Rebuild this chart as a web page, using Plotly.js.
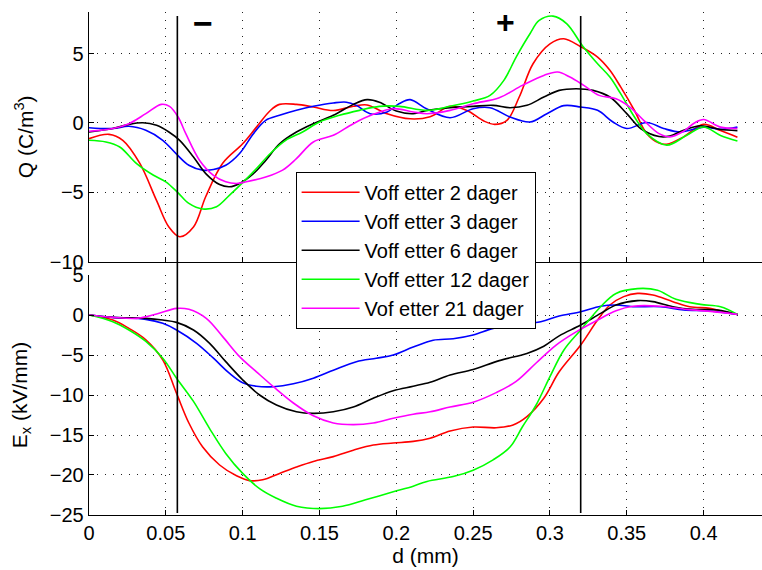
<!DOCTYPE html>
<html>
<head>
<meta charset="utf-8">
<script src="https://cdn.plot.ly/plotly-3.0.1.min.js"></script>
<style>html,body{margin:0;padding:0;background:#fff;}#chart{width:762px;height:570px;}</style>
</head>
<body>
<div id="chart"></div>
<script>
// ---- Series names and colours ----
const seriesNames = ["Voff etter 2 dager", "Voff etter 3 dager", "Voff etter 6 dager", "Voff etter 12 dager", "Vof etter 21 dager"];
const seriesColors = ["#ff0000", "#0000ff", "#000000", "#00ff00", "#ff00ff"];

// ---- Top panel: Q (C/m^3) ----
const qRedX = [0, 0.013, 0.022, 0.033, 0.044, 0.052, 0.059, 0.068, 0.076, 0.087, 0.1, 0.109, 0.118, 0.124, 0.135, 0.146, 0.159, 0.172, 0.181, 0.194, 0.209, 0.222, 0.235, 0.246, 0.257, 0.264, 0.272, 0.28, 0.289, 0.3, 0.309, 0.32, 0.331, 0.339, 0.346, 0.355, 0.363, 0.371, 0.376, 0.387, 0.4, 0.411, 0.422];
const qRedY = [-1.13, -0.82, -1.25, -2.9, -5.6, -7.5, -8.2, -7.5, -5.3, -2.9, -1.5, -0.3, 0.9, 1.34, 1.34, 1.15, 0.9, 1.2, 1.3, 0.67, 0.3, 0.45, 1.2, 0.9, 0.14, -0.1, 0.19, 1.87, 4.27, 5.7, 6.07, 5.5, 4.75, 3.8, 2.6, 0.9, -0.77, -1.45, -1.53, -1.0, -0.1, -0.55, -1.03];

const qBlueX = [0, 0.0155, 0.026, 0.037, 0.048, 0.057, 0.065, 0.074, 0.081, 0.089, 0.098, 0.107, 0.115, 0.124, 0.135, 0.146, 0.159, 0.1675, 0.174, 0.183, 0.194, 0.202, 0.209, 0.22, 0.235, 0.25, 0.261, 0.274, 0.287, 0.298, 0.309, 0.32, 0.331, 0.341, 0.35, 0.363, 0.374, 0.385, 0.4, 0.411, 0.422];
const qBlueY = [-0.34, -0.4, -0.24, -0.53, -1.25, -2.25, -3.05, -3.4, -3.36, -3.05, -2.2, -0.77, 0.19, 0.55, 0.91, 1.2, 1.44, 1.5, 1.27, 0.67, 0.8, 1.4, 1.68, 1.0, 0.38, 1.03, 1.1, 0.43, 0.07, 0.67, 1.25, 1.15, 0.91, 0.07, -0.4, 0.03, -0.4, -0.65, -0.3, -0.45, -0.3];

const qBlackX = [0, 0.0155, 0.026, 0.035, 0.044, 0.052, 0.059, 0.068, 0.076, 0.085, 0.0915, 0.098, 0.107, 0.115, 0.124, 0.135, 0.146, 0.159, 0.172, 0.181, 0.189, 0.2, 0.211, 0.22, 0.235, 0.25, 0.263, 0.274, 0.285, 0.296, 0.306, 0.317, 0.328, 0.339, 0.35, 0.359, 0.371, 0.378, 0.387, 0.398, 0.41, 0.422];
const qBlackY = [-0.65, -0.4, -0.1, 0.02, -0.17, -0.65, -1.25, -2.45, -3.65, -4.44, -4.6, -4.36, -3.65, -2.7, -1.5, -0.65, -0.05, 0.55, 1.34, 1.68, 1.5, 0.86, 0.67, 0.9, 1.1, 1.2, 1.27, 1.1, 1.27, 1.87, 2.35, 2.47, 2.35, 1.87, 0.67, -0.4, -0.98, -0.95, -0.53, -0.2, -0.45, -0.55];

const qGreenX = [0, 0.011, 0.02, 0.031, 0.042, 0.05, 0.058, 0.065, 0.074, 0.083, 0.0915, 0.1, 0.109, 0.118, 0.128, 0.139, 0.15, 0.163, 0.176, 0.189, 0.202, 0.22, 0.235, 0.25, 0.261, 0.27, 0.278, 0.287, 0.293, 0.302, 0.311, 0.321, 0.331, 0.339, 0.346, 0.355, 0.363, 0.376, 0.389, 0.4, 0.411, 0.422];
const qGreenY = [-1.25, -1.37, -1.73, -2.93, -3.77, -4.24, -5.04, -5.8, -6.2, -6.04, -5.2, -4.3, -3.29, -2.2, -1.25, -0.65, 0.07, 0.55, 0.91, 1.2, 1.2, 0.91, 1.2, 1.58, 1.99, 3.07, 4.75, 6.43, 7.39, 7.7, 7.15, 5.59, 4.27, 3.31, 2.11, 0.43, -0.77, -1.6, -0.89, -0.29, -0.9, -1.3];

const qMagentaX = [0, 0.0155, 0.026, 0.037, 0.047, 0.0524, 0.058, 0.063, 0.072, 0.081, 0.089, 0.096, 0.1024, 0.115, 0.126, 0.135, 0.146, 0.159, 0.172, 0.185, 0.198, 0.211, 0.22, 0.235, 0.25, 0.267, 0.282, 0.296, 0.305, 0.313, 0.322, 0.332, 0.343, 0.352, 0.361, 0.371, 0.378, 0.387, 0.394, 0.4, 0.411, 0.422];
const qMagentaY = [-0.6, -0.4, -0.05, 0.67, 1.34, 1.2, 0.43, -0.77, -2.7, -3.77, -4.24, -4.36, -4.24, -3.9, -3.4, -2.57, -1.37, -0.89, -0.05, 0.62, 1.03, 0.79, 0.67, 0.91, 1.39, 1.82, 2.71, 3.43, 3.67, 3.31, 2.71, 1.99, 1.75, 1.15, 0.19, -0.77, -1.0, -0.6, 0.0, 0.25, -0.3, -0.4];

// ---- Bottom panel: E_x (kV/mm) ----
const eRedX = [0, 0.0155, 0.026, 0.037, 0.048, 0.057, 0.065, 0.074, 0.085, 0.096, 0.1045, 0.113, 0.124, 0.135, 0.146, 0.159, 0.172, 0.185, 0.198, 0.211, 0.222, 0.235, 0.25, 0.265, 0.276, 0.285, 0.296, 0.306, 0.32, 0.331, 0.339, 0.348, 0.357, 0.367, 0.38, 0.391, 0.404, 0.413, 0.422];
const eRedY = [0, -0.63, -1.67, -3.1, -5.6, -9.8, -13.5, -16.5, -18.75, -20.1, -20.7, -20.6, -19.8, -19.0, -18.3, -17.7, -16.9, -16.25, -16.0, -15.8, -15.4, -14.5, -14.0, -14.1, -13.75, -12.7, -10.4, -7.1, -3.75, -0.63, 1.25, 2.3, 2.7, 2.5, 1.67, 1.04, 0.83, 0.42, 0.08];

const eBlueX = [0, 0.0155, 0.037, 0.048, 0.057, 0.07, 0.081, 0.0915, 0.1, 0.109, 0.12, 0.133, 0.146, 0.159, 0.174, 0.187, 0.198, 0.211, 0.224, 0.237, 0.25, 0.263, 0.276, 0.294, 0.306, 0.32, 0.333, 0.343, 0.354, 0.372, 0.387, 0.404, 0.422];
const eBlueY = [0, -0.29, -0.54, -1.04, -1.87, -3.54, -5.4, -7.3, -8.46, -8.9, -8.96, -8.6, -7.9, -6.9, -5.83, -5.4, -5.0, -4.0, -3.15, -2.96, -2.5, -1.67, -1.25, -0.83, -0.13, 0.42, 1.1, 1.25, 1.04, 1.04, 0.63, 0.5, 0.08];

const eBlackX = [0, 0.0155, 0.037, 0.048, 0.057, 0.068, 0.0785, 0.089, 0.1, 0.111, 0.122, 0.135, 0.146, 0.159, 0.172, 0.185, 0.198, 0.211, 0.222, 0.235, 0.25, 0.267, 0.285, 0.296, 0.306, 0.32, 0.333, 0.343, 0.357, 0.367, 0.38, 0.393, 0.409, 0.422];
const eBlackY = [0, -0.29, -0.42, -0.63, -0.92, -1.87, -3.54, -5.83, -8.1, -10, -11.25, -12.1, -12.3, -12.1, -11.5, -10.4, -9.46, -8.9, -8.4, -7.5, -6.8, -5.7, -4.8, -3.9, -2.6, -1.25, 0.2, 1.25, 1.8, 1.67, 1.04, 0.7, 0.63, 0.08];

const eGreenX = [0, 0.0155, 0.026, 0.037, 0.048, 0.057, 0.068, 0.0785, 0.089, 0.1, 0.111, 0.122, 0.135, 0.15, 0.165, 0.18, 0.198, 0.211, 0.22, 0.237, 0.25, 0.263, 0.274, 0.282, 0.291, 0.3, 0.309, 0.32, 0.333, 0.343, 0.357, 0.37, 0.382, 0.398, 0.411, 0.422];
const eGreenY = [0, -0.83, -1.87, -3.3, -5.4, -7.9, -10.8, -14.2, -17.3, -19.8, -21.7, -22.9, -23.9, -24.2, -23.9, -23.1, -22.1, -21.4, -20.8, -20.2, -19.4, -18.1, -16.5, -14, -11.25, -7.7, -4.4, -1.87, 1.04, 2.7, 3.3, 3.1, 1.96, 1.33, 1.04, 0.08];

const eMagentaX = [0, 0.0155, 0.031, 0.044, 0.057, 0.065, 0.0763, 0.087, 0.098, 0.109, 0.12, 0.133, 0.146, 0.159, 0.172, 0.185, 0.198, 0.211, 0.222, 0.235, 0.25, 0.265, 0.278, 0.291, 0.304, 0.317, 0.331, 0.343, 0.354, 0.372, 0.389, 0.406, 0.422];
const eMagentaY = [0, -0.29, -0.42, 0.13, 0.83, 0.71, -0.42, -2.7, -5.2, -7.1, -8.96, -11.0, -12.6, -13.5, -13.7, -13.5, -12.9, -12.4, -12.1, -11.5, -10.9, -9.7, -8.3, -6.0, -3.75, -2.1, -0.63, 0.54, 1.1, 1.1, 0.7, 0.42, 0.08];

// ---- Ticks ----
const xTickVals = [0, 0.05, 0.1, 0.15, 0.2, 0.25, 0.3, 0.35, 0.4];
const xTickText = ["0", "0.05", "0.1", "0.15", "0.2", "0.25", "0.3", "0.35", "0.4"];
const qTickVals = [-10, -5, 0, 5];
const eTickVals = [-25, -20, -15, -10, -5, 0, 5];

// ---- Marker lines (electrode positions) ----
const markerLinesX = [0.0575, 0.32];

const qX = [qRedX, qBlueX, qBlackX, qGreenX, qMagentaX];
const qY = [qRedY, qBlueY, qBlackY, qGreenY, qMagentaY];
const eX = [eRedX, eBlueX, eBlackX, eGreenX, eMagentaX];
const eY = [eRedY, eBlueY, eBlackY, eGreenY, eMagentaY];

const FONT = "Liberation Sans, Arial, Helvetica, sans-serif";
const traces = [];
for (let i = 0; i < 5; i++) {
  traces.push({x: qX[i], y: qY[i], xaxis: "x2", yaxis: "y2", type: "scatter", mode: "lines",
    name: seriesNames[i], line: {color: seriesColors[i], width: 1.6, shape: "spline", smoothing: 1}, showlegend: true});
}
for (let i = 0; i < 5; i++) {
  traces.push({x: eX[i], y: eY[i], xaxis: "x", yaxis: "y", type: "scatter", mode: "lines",
    name: seriesNames[i], line: {color: seriesColors[i], width: 1.6, shape: "spline", smoothing: 1}, showlegend: false});
}

const gridStyle = {showgrid: true, gridcolor: "#222", griddash: "1px,7px", gridwidth: 1, zeroline: false,
  showline: true, linecolor: "#000", linewidth: 1.3, ticks: "inside", ticklen: 5, tickcolor: "#000",
  tickfont: {family: FONT, size: 20, color: "#000"}};

const layout = {
  width: 762, height: 570,
  margin: {l: 89, r: 0, t: 12, b: 55},
  paper_bgcolor: "#fff", plot_bgcolor: "#fff",
  font: {family: FONT, size: 20, color: "#000"},
  xaxis: Object.assign({}, gridStyle, {domain: [0, 1], anchor: "y", range: [0, 0.438],
    tickvals: xTickVals, ticktext: xTickText,
    title: {text: "d (mm)", font: {family: FONT, size: 21, color: "#000"}, standoff: 4}}),
  xaxis2: Object.assign({}, gridStyle, {domain: [0, 1], anchor: "y2", range: [0, 0.438], matches: "x",
    tickvals: xTickVals, showticklabels: false}),
  yaxis: Object.assign({}, gridStyle, {domain: [0, 0.4771], anchor: "x", range: [-25, 5],
    tickvals: eTickVals,
    title: {text: "E<sub>x</sub> (kV/mm)", font: {family: FONT, size: 21, color: "#000"}, standoff: 16}}),
  yaxis2: Object.assign({}, gridStyle, {domain: [0.5036, 1], anchor: "x2", range: [-10, 8],
    tickvals: qTickVals,
    title: {text: "Q (C/m<sup>3</sup>)", font: {family: FONT, size: 21, color: "#000"}, standoff: 10}}),
  legend: {x: 0.307, y: 0.6825, xanchor: "left", yanchor: "top", bgcolor: "#fff",
    bordercolor: "#000", borderwidth: 1, font: {family: FONT, size: 20, color: "#000"},
    itemwidth: 58},
  shapes: markerLinesX.map(v => ({type: "line", xref: "x", yref: "paper", x0: v, x1: v, y0: 0.004, y1: 0.992,
    line: {color: "#000", width: 1.6}})),
  annotations: [
    {xref: "x2", yref: "y2", x: 0.074, y: 7.2, text: "<b>−</b>", showarrow: false,
      font: {family: FONT, size: 34, color: "#000"}},
    {xref: "x2", yref: "y2", x: 0.271, y: 7.3, text: "<b>+</b>", showarrow: false,
      font: {family: FONT, size: 32, color: "#000"}}
  ]
};

Plotly.newPlot("chart", traces, layout, {displayModeBar: false, staticPlot: true});
</script>
</body>
</html>
